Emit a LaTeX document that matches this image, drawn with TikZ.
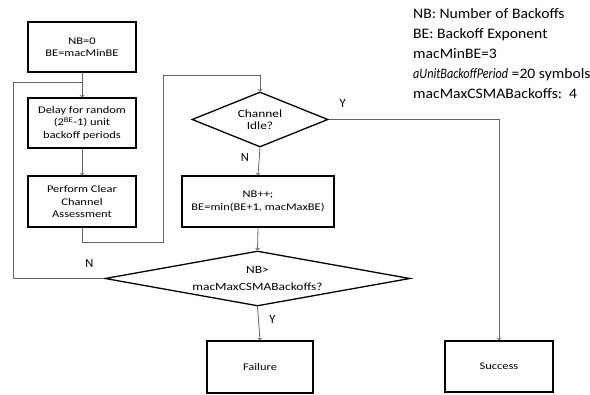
\documentclass[tikz,border=0pt]{standalone}
\usepackage{fontspec}
\setmainfont{Carlito}
\newfontfamily\boxfont[FakeStretch=1.22]{Carlito}
\newfontfamily\notefont[FakeStretch=1.08]{Carlito}
\newfontfamily\noteitfont[FakeStretch=0.84]{Carlito}
\usetikzlibrary{shapes.geometric}

\definecolor{linkgray}{RGB}{100,100,100}

\tikzset{
  proc/.style = {draw, line width=1.3pt, align=center, inner sep=2pt,
                 font=\boxfont\fontsize{10.2}{12.4}\selectfont},
  decision/.style = {diamond, draw, line width=1.3pt, align=center, inner sep=0pt,
                 font=\boxfont\fontsize{11}{12.4}\selectfont},
  conn/.style = {draw=linkgray, line width=0.8pt},
  lbl/.style = {inner sep=0pt, font=\fontsize{12.5}{14}\selectfont}
}

\begin{document}
\begin{tikzpicture}[x=1pt, y=-1pt]
    \useasboundingbox (0,0) rectangle (590,395);

    % left column
    \node[proc, minimum width=108pt, minimum height=50pt] (init) at (82,47) {NB=0\\BE=macMinBE};
    \node[proc, minimum width=108pt, minimum height=50pt] (delay) at (82,123)
        {Delay for random\\(2\textsuperscript{BE}-1) unit\\backoff periods};
    \node[proc, minimum width=108pt, minimum height=51pt] (cca) at (82,201.5)
        {Perform Clear\\Channel\\Assessment};

    % middle column
    \node[decision, aspect=2.47, minimum width=136pt, minimum height=55pt] (idle) at (260,119.5)
        {Channel\\Idle?};
    \node[proc, minimum width=152pt, minimum height=51pt] (nbinc) at (258,201.5)
        {NB++;\\BE=min(BE+1, macMaxBE)};
    \node[decision, aspect=5.5, minimum width=305pt, minimum height=55pt] (maxbo) at (257.5,278.5)
        {NB>\\[4pt]macMaxCSMABackoffs?};
    \node[proc, minimum width=106pt, minimum height=52pt] (failure) at (260,367) {Failure};
    \node[proc, minimum width=108pt, minimum height=51pt] (success) at (499,366.5) {Success};

    % notes
    \node[anchor=north west, align=left, inner sep=0pt,
          font=\notefont\fontsize{14.5}{20}\selectfont] (notes) at (413,8)
        {NB: Number of Backoffs\\BE: Backoff Exponent\\macMinBE=3\\
         {\noteitfont\itshape aUnitBackoffPeriod} =20 symbols\\macMaxCSMABackoffs:\ \ 4};

    \coordinate (loopTop) at (13,82);
    \coordinate (jogLow) at (163,242);
    \coordinate (jogHigh) at (163,75);

    % connectors
    \draw[conn, ->] (init.south) -- (delay.north);
    \draw[conn, ->] (delay.south) -- (cca.north);
    \draw[conn, ->] (cca.south) |- (jogLow) -- (jogHigh) -| (idle.north);
    \draw[conn, ->] (idle.east) -| (success.north);
    \draw[conn, ->] (idle.south) -- (nbinc.north);
    \draw[conn, ->] (nbinc.south) -- (maxbo.north);
    \draw[conn, ->] (maxbo.south) -- (failure.north);
    \draw[conn] (maxbo.west) -| (loopTop) -- (init.south |- loopTop);

    \node[lbl] (idleY) at ([shift={(14,-16)}]idle.east) {Y};
    \node[lbl] (idleN) at ([shift={(-15,10)}]idle.south) {N};
    \node[lbl] (maxY) at ([shift={(15,13)}]maxbo.south) {Y};
    \node[lbl] (maxN) at ([shift={(-15,-15)}]maxbo.west) {N};
\end{tikzpicture}
\end{document}
